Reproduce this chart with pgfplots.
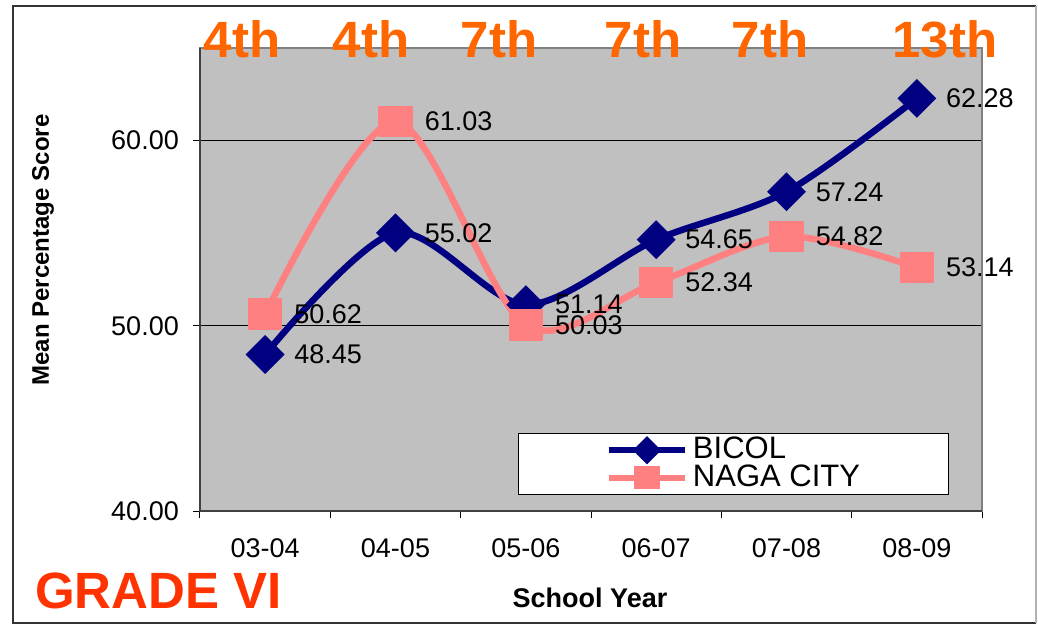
\documentclass[border=0pt]{standalone}
\usepackage{pgfplots}
\pgfplotsset{compat=1.18}
\usepackage{fontspec}
\setmainfont{Liberation Sans}
\definecolor{navyb}{HTML}{000080}
\definecolor{pinkn}{HTML}{FF8080}
\definecolor{bgray}{HTML}{C0C0C0}
\definecolor{axgray}{HTML}{808080}
\definecolor{rankor}{HTML}{FF6600}
\definecolor{graderd}{HTML}{FF3300}
\begin{document}
\begin{tikzpicture}[x=1pt,y=1pt]
\begin{axis}[
  at={(0pt,0pt)}, anchor=south west,
  scale only axis, width=782pt, height=463pt,
  xmin=-0.5, xmax=5.5, ymin=40, ymax=65,
  clip=false,
  axis background/.style={fill=bgray},
  axis line style={draw=axgray, line width=1.6pt},
  xtick={-0.5,0.5,1.5,2.5,3.5,4.5,5.5},
  xticklabels={},
  extra x ticks={0,1,2,3,4,5},
  extra x tick labels={03-04,04-05,05-06,06-07,07-08,08-09},
  extra x tick style={major tick length=0pt, grid=none},
  ytick={40,50,60},
  xtick pos=bottom, ytick pos=left,
  tick align=outside,
  major tick length=7pt,
  tick style={draw=black, line width=1pt},
  ymajorgrids, xmajorgrids=false,
  major grid style={draw=black, line width=0.8pt},
  yticklabel style={font=\fontsize{27}{30}\selectfont, inner sep=0pt, xshift=-14pt},
  xticklabel style={font=\fontsize{27}{30}\selectfont, inner sep=0pt, yshift=-27pt},
  /pgf/number format/.cd, fixed, fixed zerofill, precision=2, assume math mode=true,
  /pgfplots/.cd,
  legend style={at={(rel axis cs:0.6816,0.1015)}, anchor=center, draw=black, line width=0.8pt,
    fill=white, font=\fontsize{31}{27}\selectfont, inner xsep=88pt, inner ysep=3pt,
    row sep=0pt, column sep=5pt,
    nodes={inner sep=0pt, text height=22pt, text depth=5.5pt}},
  legend cell align=left,
  legend image code/.code={\draw[mark repeat=2,mark phase=2,#1] plot coordinates {(0pt,0pt) (38pt,0pt) (76pt,0pt)};},
  nodes near coords={\pgfmathprintnumber[fixed,fixed zerofill,precision=2,assume math mode=true]{\pgfplotspointmeta}},
  nodes near coords style={anchor=west, inner sep=0pt, xshift=26pt, text=black, font=\fontsize{27}{30}\selectfont},
]
\addlegendimage{navyb, line width=6pt, mark=square*, mark size=7pt, mark options={rotate=45, solid, fill=navyb, draw=none}}
\addlegendimage{pinkn, line width=6pt, mark=square*, mark size=10pt, mark options={yscale=0.85, solid, fill=pinkn, draw=none}}
\addplot[forget plot, navyb, line width=6.5pt, smooth, tension=0.5, mark=square*, mark size=10.5pt,
  mark options={rotate=45, fill=navyb, draw=none}]
  coordinates {(0,48.45) (1,55.02) (2,51.14) (3,54.65) (4,57.24) (5,62.28)};
\addplot[forget plot, pinkn, line width=6.5pt, smooth, tension=0.5, mark=square*, mark size=14pt,
  mark options={yscale=0.9, fill=pinkn, draw=none}]
  coordinates {(0,50.62) (1,61.03) (2,50.03) (3,52.34) (4,54.82) (5,53.14)};
\legend{BICOL, NAGA CITY}
\end{axis}
% left and bottom axis lines
\draw[line width=1.8pt, color=black!75] (0,463) -- (0,0) -- (782,0);
% texts
\node[rotate=90, font=\bfseries\fontsize{24}{28}\selectfont, inner sep=0pt] at (-157,261) {Mean Percentage Score};
\node[anchor=base, font=\bfseries\fontsize{27}{30}\selectfont, inner sep=0pt] at (390,-96) {School Year};
\node[anchor=base west, font=\bfseries\fontsize{51}{56}\selectfont, text=graderd, inner sep=0pt] at (-165,-97) {GRADE VI};
\foreach \xx/\tt in {42/4th, 171/4th, 299/7th, 443/7th, 570/7th, 745/13th}{
  \node[anchor=base, font=\bfseries\fontsize{51}{56}\selectfont, text=rankor, inner sep=0pt] at (\xx,453) {\tt};
}
% frame
\draw[line width=1.2pt, color=black!80] (836,-112) -- (-187,-112) -- (-187,505) -- (836,505);
\draw[line width=1.2pt, color=black!30] (836,-112) -- (836,505);
\pgfresetboundingbox
\path (-200,-115) rectangle (838,511);
\end{tikzpicture}
\end{document}
